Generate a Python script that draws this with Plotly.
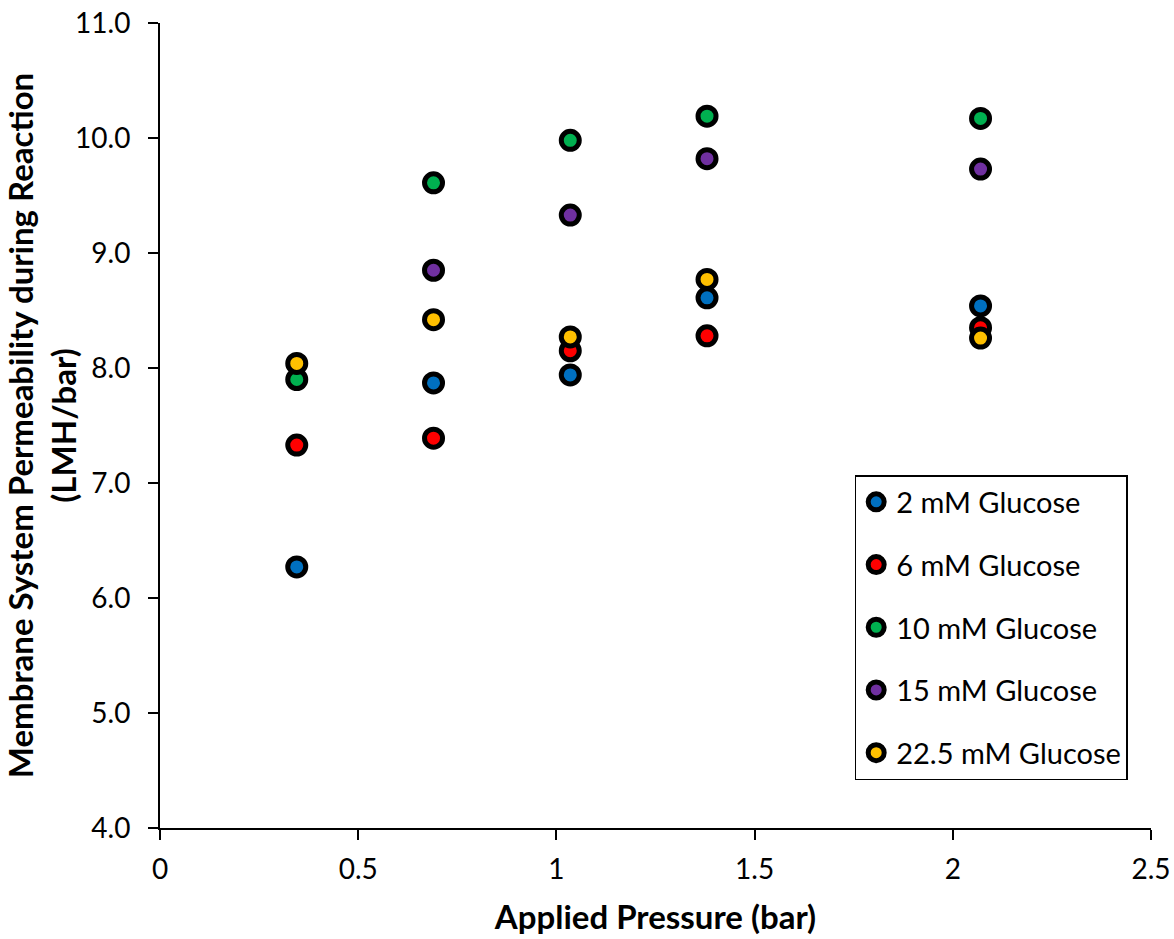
import plotly.graph_objects as go

pressure = [0.345, 0.69, 1.035, 1.38, 2.07]
perm_2mM = [6.27, 7.87, 7.94, 8.61, 8.54]
perm_6mM = [7.33, 7.39, 8.15, 8.28, 8.35]
perm_10mM = [7.90, 9.61, 9.98, 10.19, 10.17]
pressure_15 = [0.69, 1.035, 1.38, 2.07]
perm_15mM = [8.85, 9.33, 9.82, 9.73]
perm_22mM = [8.04, 8.42, 8.27, 8.77, 8.26]

x_ticks = [0, 0.5, 1, 1.5, 2, 2.5]
x_ticktext = ["0", "0.5", "1", "1.5", "2", "2.5"]

series = [
    ("2 mM Glucose", pressure, perm_2mM, "#0070C0"),
    ("6 mM Glucose", pressure, perm_6mM, "#FF0000"),
    ("10 mM Glucose", pressure, perm_10mM, "#00B050"),
    ("15 mM Glucose", pressure_15, perm_15mM, "#7030A0"),
    ("22.5 mM Glucose", pressure, perm_22mM, "#FFC000"),
]

fig = go.Figure()
for i, (name, x, y, c) in enumerate(series):
    fig.add_trace(go.Scatter(
        x=x, y=y, mode="markers", name=name, legendgroup=f"g{i}",
        marker=dict(size=18, color=c, line=dict(color="black", width=5)),
    ))

font = "Lato, sans-serif"
fig.update_layout(
    width=1174, height=939,
    paper_bgcolor="white", plot_bgcolor="white",
    margin=dict(l=160, r=23, t=23, b=111),
    font=dict(family=font, size=28, color="black"),
    legend=dict(
        x=0.701, y=0.4385, xanchor="left", yanchor="top",
        bordercolor="black", borderwidth=1.5, bgcolor="white",
        font=dict(size=29, family=font), tracegroupgap=22, traceorder="grouped",
        itemwidth=30,
    ),
    xaxis=dict(
        range=[0, 2.5], tickvals=x_ticks, ticktext=x_ticktext,
        tickfont=dict(size=28, family=font), ticklabelstandoff=5,
        ticklabeloverflow="allow",
        showgrid=False, zeroline=False, showline=True, linecolor="black", linewidth=2,
        ticks="outside", ticklen=10, tickwidth=1.5, tickcolor="black",
        automargin=False,
        title=dict(text="<b>Applied Pressure (bar)</b>", font=dict(size=33, family=font), standoff=22),
    ),
    yaxis=dict(
        range=[4, 11], dtick=1, tickformat=".1f", tickprefix="\u00a0",
        tickfont=dict(size=28, family=font), ticklabelstandoff=12,
        ticklabeloverflow="allow",
        showgrid=False, zeroline=False, showline=True, linecolor="black", linewidth=2,
        ticks="outside", ticklen=10, tickwidth=1.5, tickcolor="black",
        automargin=False,
        title=dict(text="<b>Membrane System Permeability during Reaction<br>(LMH/bar)</b>",
                   font=dict(size=33, family=font), standoff=0),
    ),
)

fig.write_html(
    "out.html",
    config={"displayModeBar": False},
    post_script="document.body.style.margin='0';document.documentElement.style.overflow='hidden';",
)
